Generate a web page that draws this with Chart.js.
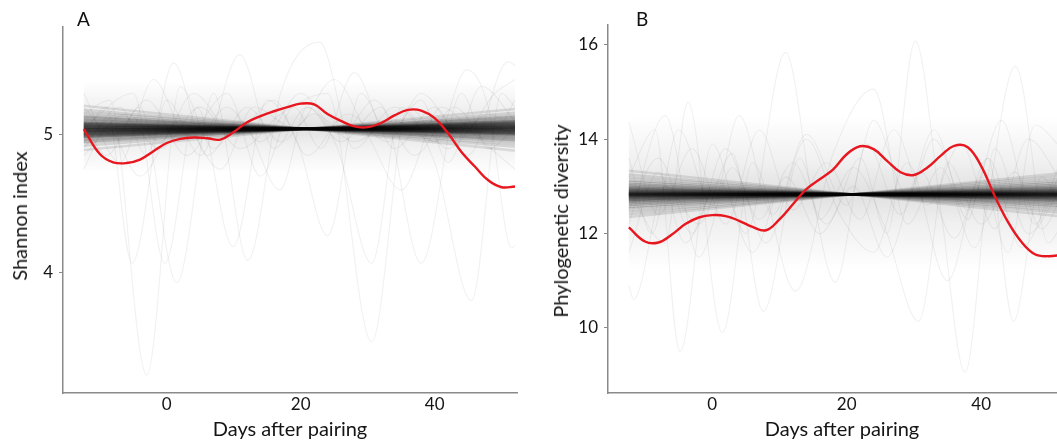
<!DOCTYPE html>
<html>
<head>
<meta charset="utf-8">
<script src="https://cdn.jsdelivr.net/npm/chart.js@4.4.1/dist/chart.umd.min.js"></script>
<style>
  html, body { margin: 0; padding: 0; background: #fff; overflow: hidden; width: 1057px; height: 443px; }
  .panel { position: absolute; top: 0; height: 443px; }
  #wrapA { left: 0; width: 530px; }
  #wrapB { left: 530px; width: 560px; }
  .tag { position: absolute; top: 7px; font-family: Lato, sans-serif; font-size: 19px; color: #111; }
  .ytitle { position: absolute; font-family: Lato, sans-serif; font-size: 20px; line-height: 20px; color: #151515;
            white-space: nowrap; transform: translate(-50%, -50%) rotate(-90deg); }
</style>
</head>
<body>
<div class="panel" id="wrapA"><canvas id="chartA" width="530" height="443"></canvas></div>
<div class="panel" id="wrapB"><canvas id="chartB" width="560" height="443"></canvas></div>
<div class="tag" style="left:77px">A</div>
<div class="tag" style="left:636px">B</div>
<div class="ytitle" style="left:19px; top:216px">Shannon index</div>
<div class="ytitle" style="left:560px; top:221px">Phylogenetic diversity</div>
<script>
// observed smooth (red) curves, sampled every 2 days
const days = [-12.4, -10, -8, -6, -4, -2, 0, 2, 4, 6, 8, 10, 12, 14, 16, 18, 20, 22, 24, 26, 28, 30, 32, 34, 36, 38, 40, 42, 44, 46, 48, 50, 52];
const shannonObs = [5.04, 4.86, 4.80, 4.795, 4.82, 4.88, 4.94, 4.97, 4.98, 4.975, 4.965, 5.02, 5.09, 5.135, 5.17, 5.20, 5.225, 5.22, 5.15, 5.10, 5.06, 5.055, 5.085, 5.14, 5.18, 5.175, 5.12, 5.01, 4.875, 4.77, 4.67, 4.62, 4.625];
const pdObs = [12.13, 11.83, 11.81, 11.98, 12.20, 12.34, 12.39, 12.37, 12.27, 12.14, 12.07, 12.30, 12.62, 12.94, 13.15, 13.36, 13.68, 13.85, 13.79, 13.54, 13.30, 13.24, 13.40, 13.65, 13.86, 13.83, 13.43, 12.80, 12.24, 11.82, 11.56, 11.52, 11.55];

// permuted linear fits (dark bow-tie band): value at first and last day
const bandDays = [-12.4, 52];
const bandStartA = [5.21, 5.18, 5.16, 5.14, 5.13, 5.12, 5.11, 5.10, 5.09, 5.085, 5.08, 5.075, 5.07, 5.065, 5.06, 5.055, 5.05, 5.045, 5.04, 5.035, 5.03, 5.025, 5.02, 5.015, 5.01, 5.005, 5.00, 4.995, 4.99, 4.985, 4.98, 4.97, 4.96, 4.95, 4.94, 4.92, 4.89];
const bandEndA = [4.885, 4.913, 4.932, 4.951, 4.960, 4.970, 4.979, 4.989, 4.998, 5.003, 5.007, 5.012, 5.017, 5.022, 5.026, 5.031, 5.036, 5.040, 5.045, 5.050, 5.054, 5.059, 5.064, 5.069, 5.073, 5.078, 5.083, 5.087, 5.092, 5.097, 5.101, 5.111, 5.120, 5.130, 5.139, 5.158, 5.186];
const bandStartB = [13.33, 13.25, 13.19, 13.13, 13.09, 13.05, 13.02, 12.99, 12.97, 12.95, 12.93, 12.915, 12.90, 12.885, 12.87, 12.86, 12.85, 12.84, 12.83, 12.82, 12.81, 12.80, 12.79, 12.775, 12.76, 12.745, 12.73, 12.71, 12.69, 12.67, 12.64, 12.61, 12.57, 12.53, 12.47, 12.41, 12.35];
const bandEndB = [12.36, 12.435, 12.49, 12.55, 12.585, 12.62, 12.65, 12.68, 12.70, 12.717, 12.736, 12.75, 12.764, 12.778, 12.792, 12.802, 12.81, 12.82, 12.83, 12.84, 12.849, 12.858, 12.868, 12.882, 12.896, 12.91, 12.924, 12.943, 12.962, 12.98, 13.009, 13.037, 13.074, 13.112, 13.168, 13.225, 13.281];

// soft haze of the many permuted curves around the band: [upper, lower] at first and last day
const hazeA = [[5.38, 5.40], [4.72, 4.72]];
const hazeB = [[14.45, 14.5], [11.25, 11.2]];

// permuted smooth curves (faint grey), [day, value] at turning points
const faintA = [
  [[-12.4, 5.15], [-8.5, 5.25], [-3, 3.26], [2, 5.35], [7, 4.9], [12, 5.2], [17, 4.95], [22, 5.15], [28, 4.95], [34, 5.1], [40, 4.95], [46, 5.1], [52, 5.0]],
  [[-12.4, 4.95], [-7, 5.15], [-1, 4.9], [5, 5.2], [11, 4.9], [17, 5.15], [24, 5.3], [30.6, 3.5], [36, 5.2], [42, 4.9], [48, 5.15], [52, 5.05]],
  [[-12.4, 5.1], [-9, 4.85], [-4, 5.2], [1.5, 3.93], [7, 5.3], [12.1, 4.09], [17, 5.3], [22.8, 5.67], [28, 4.9], [34, 5.2], [40, 4.8], [45.5, 3.8], [50, 5.3], [52, 5.2]],
  [[-12.4, 5.0], [-9, 5.2], [-5.2, 4.07], [0, 5.25], [5, 4.85], [10.9, 5.58], [16, 4.9], [21, 5.2], [26, 4.95], [32, 5.2], [38, 4.07], [44, 5.3], [48, 4.9], [52, 5.05]],
  [[-12.4, 5.05], [-5, 5.3], [-0.3, 4.07], [4.5, 5.2], [9.9, 4.19], [15, 5.25], [19.5, 4.95], [24, 4.27], [29, 5.3], [34, 4.9], [40, 5.2], [45, 4.85], [51, 5.53], [52, 5.5]],
  [[-12.4, 4.9], [-7, 5.2], [-3, 4.85], [1, 5.52], [6, 4.85], [11, 5.1], [16.9, 4.6], [21, 5.2], [25.5, 4.9], [30.6, 4.07], [35, 5.2], [40, 4.95], [44.8, 5.47], [48, 5.2], [51.5, 4.18], [52, 4.2]],
  [[-12.4, 5.2], [-8, 5.0], [-3, 5.25], [3, 4.85], [9, 5.2], [14, 4.95], [20, 5.3], [26, 5.0], [31, 5.25], [37, 4.85], [43, 5.2], [48, 4.95], [52, 5.25]],
  [[-12.4, 4.85], [-6, 5.15], [-1, 4.95], [4, 5.3], [10, 5.0], [16, 5.25], [21, 4.85], [27, 5.15], [33, 4.95], [38, 5.3], [44, 5.0], [49, 5.3], [52, 5.4]],
  [[-12.4, 4.75], [-9, 5.05], [-4, 4.7], [2, 5.1], [8, 4.75], [13, 5.2], [19, 5.05], [25, 5.4], [30, 5.0], [35, 4.6], [41, 5.2], [46, 5.0], [52, 4.75]],
  [[-12.4, 5.3], [-7, 4.8], [-2, 5.4], [3, 5.0], [9, 5.3], [14, 4.7], [19, 5.2], [23, 4.9], [28, 5.45], [33, 5.0], [38, 5.25], [42, 4.8], [47, 5.35], [52, 5.1]]
];
const faintB = [
  [[-12.4, 12.5], [-8, 13.6], [-3, 12.0], [2, 13.8], [7, 12.3], [12, 13.5], [17, 12.2], [22, 13.6], [26, 12.0], [30.2, 16.08], [34, 12.5], [37.6, 9.06], [42, 13.8], [47, 12.0], [52, 13.0]],
  [[-12.4, 13.2], [-8.5, 14.2], [-4.8, 9.5], [0, 13.9], [5, 12.0], [10.9, 15.84], [16, 12.3], [21, 13.4], [25.5, 12.2], [30.7, 10.14], [35, 13.5], [40, 12.2], [45, 13.3], [49, 12.1], [52, 12.8]],
  [[-12.4, 12.9], [-7, 11.8], [-3.6, 14.78], [1.5, 9.9], [6, 13.5], [12.4, 10.78], [18, 13.7], [24, 15.06], [29, 12.2], [34, 13.4], [39, 11.7], [45.1, 15.55], [50, 11.8], [52, 12.2]],
  [[-12.4, 10.9], [-11.7, 10.6], [-7, 13.0], [-2, 12.2], [3, 13.7], [7.6, 10.35], [13, 13.6], [18.3, 10.97], [23, 13.9], [28, 12.4], [33, 14.2], [38, 12.3], [41, 13.6], [44.8, 10.14], [49, 13.2], [52, 12.5]],
  [[-12.4, 14.36], [-8, 12.4], [-3, 13.8], [2, 12.2], [7, 14.2], [12, 12.5], [17, 13.5], [22, 12.3], [27, 14.2], [32, 12.6], [37, 13.9], [42, 12.1], [47, 14.0], [52, 13.1]],
  [[-12.4, 11.6], [-8, 13.3], [-4, 11.8], [1, 13.1], [6, 11.6], [11, 13.2], [16, 12.0], [21, 13.0], [26, 11.5], [31, 13.3], [36, 11.9], [41, 13.6], [46, 11.7], [52, 13.6]],
  [[-12.4, 13.6], [-9, 12.0], [-5, 14.2], [0, 12.6], [4, 14.5], [9, 12.4], [14, 14.1], [20, 12.6], [24, 14.4], [29, 12.8], [33, 14.0], [38, 12.5], [43, 14.4], [48, 12.2], [52, 13.4]],
  [[-12.4, 12.2], [-7, 14.5], [-2, 11.5], [3, 13.4], [8, 11.8], [14, 14.0], [19, 12.4], [24, 11.6], [29, 13.5], [35, 11.0], [40, 13.2], [44, 11.6], [48, 14.3], [52, 13.8]]
];

const xTicks = [0, 20, 40];
const yTicksA = [4, 5];
const yTicksB = [10, 12, 14, 16];

const FONT = 'Lato, "Open Sans", sans-serif';
const AXIS = '#8a8a8a';
const TEXT = '#151515';

// vertical fade for the haze polygon, built from the y scale
function hazeFill(top, bottom) {
  return ctx => {
    const chart = ctx.chart;
    const y = chart.scales.y;
    if (!chart.chartArea || !y) return 'rgba(0,0,0,0.05)';
    const g = chart.ctx.createLinearGradient(0, y.getPixelForValue(top), 0, y.getPixelForValue(bottom));
    g.addColorStop(0, 'rgba(0,0,0,0)');
    g.addColorStop(0.3, 'rgba(0,0,0,0.06)');
    g.addColorStop(0.5, 'rgba(0,0,0,0.12)');
    g.addColorStop(0.7, 'rgba(0,0,0,0.06)');
    g.addColorStop(1, 'rgba(0,0,0,0)');
    return g;
  };
}

function panel(id, o) {
  const datasets = [];
  datasets.push({
    data: days.map((d, i) => ({ x: d, y: o.observed[i] })),
    borderColor: '#e8161e', borderWidth: 2.4, tension: 0.4
  });
  const mid = (o.bandStart.length - 1) / 2;
  o.bandStart.forEach((s, i) => datasets.push({
    data: [{ x: bandDays[0], y: s }, { x: bandDays[1], y: o.bandEnd[i] }],
    // outer fits a little lighter so the band edge fades out
    borderColor: `rgba(0,0,0,${(0.34 - 0.013 * Math.abs(i - mid)).toFixed(3)})`, borderWidth: 2.6
  }));
  o.faint.forEach(line => datasets.push({
    data: line.map(p => ({ x: p[0], y: p[1] })),
    borderColor: 'rgba(0,0,0,0.055)', borderWidth: 1.2, cubicInterpolationMode: 'monotone'
  }));
  const [up, lo] = o.haze;
  datasets.push({
    data: [{ x: bandDays[0], y: up[0] }, { x: bandDays[1], y: up[1] }, { x: bandDays[1], y: lo[1] }, { x: bandDays[0], y: lo[0] }],
    borderWidth: 0, borderColor: 'rgba(0,0,0,0)',
    backgroundColor: hazeFill((up[0] + up[1]) / 2, (lo[0] + lo[1]) / 2), fill: 'shape'
  });

  new Chart(document.getElementById(id), {
    type: 'line',
    data: { datasets: datasets },
    options: {
      responsive: false,
      animation: false,
      events: [],
      elements: { point: { radius: 0 } },
      layout: { padding: { left: 0, right: o.padRight, top: o.padTop, bottom: 0 } },
      plugins: { legend: { display: false }, tooltip: { enabled: false } },
      scales: {
        x: {
          type: 'linear',
          min: -15.5,
          max: o.xMax,
          afterBuildTicks: s => { s.ticks = xTicks.map(v => ({ value: v })); },
          afterFit: s => { s.height = 50; },
          grid: { display: false, drawTicks: false },
          border: { display: true, color: AXIS, width: 1.5 },
          ticks: { padding: 1, color: TEXT, font: { family: FONT, size: 17 } },
          title: { display: true, text: 'Days after pairing', color: TEXT, font: { family: FONT, size: 20 }, padding: { top: 0, bottom: 1 } }
        },
        y: {
          type: 'linear',
          min: o.yMin,
          max: o.yMax,
          afterBuildTicks: s => { s.ticks = o.yTicks.map(v => ({ value: v })); },
          afterFit: s => { s.width = o.axisWidth; },
          grid: { drawOnChartArea: false, drawTicks: true, tickLength: 4, color: AXIS },
          border: { display: true, color: AXIS, width: 1.5 },
          ticks: { padding: 6, color: TEXT, font: { family: FONT, size: 17 } },
          title: { display: false }
        }
      }
    }
  });
}

panel('chartA', {
  observed: shannonObs, bandStart: bandStartA, bandEnd: bandEndA, faint: faintA, haze: hazeA,
  yMin: 3.13, yMax: 5.78, yTicks: yTicksA, xMax: 52.3,
  axisWidth: 63, padRight: 13, padTop: 27
});
panel('chartB', {
  observed: pdObs, bandStart: bandStartB, bandEnd: bandEndB, faint: faintB, haze: hazeB,
  yMin: 8.62, yMax: 16.42, yTicks: yTicksB, xMax: 54.1,
  axisWidth: 78, padRight: 14, padTop: 25
});
</script>
</body>
</html>
